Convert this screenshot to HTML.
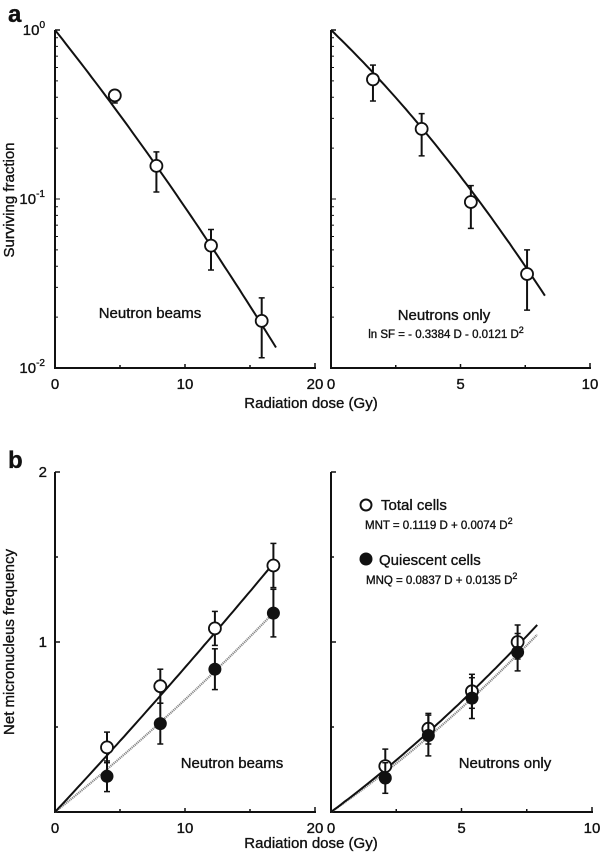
<!DOCTYPE html>
<html><head><meta charset="utf-8"><style>
body{margin:0;background:#fff}
svg text{font-family:"Liberation Sans",Arial,sans-serif;fill:#111;stroke:#111;stroke-width:0.35}
</style></head><body>
<svg id="c" width="600" height="855" xmlns="http://www.w3.org/2000/svg">
<text x="8" y="22" font-size="24" font-weight="bold">a</text>
<text x="8" y="468" font-size="24" font-weight="bold">b</text>
<text transform="translate(14,200) rotate(-90)" text-anchor="middle" font-size="15">Surviving fraction</text>
<text transform="translate(14,642) rotate(-90)" text-anchor="middle" font-size="15">Net micronucleus frequency</text>
<text x="311" y="408" text-anchor="middle" font-size="15">Radiation dose (Gy)</text>
<text x="311" y="848" text-anchor="middle" font-size="15">Radiation dose (Gy)</text>
<text x="150" y="318" text-anchor="middle" font-size="15">Neutron beams</text>
<text x="444" y="320" text-anchor="middle" font-size="15">Neutrons only</text>
<text x="446" y="338" text-anchor="middle" font-size="11.5">ln SF = - 0.3384 D - 0.0121 D<tspan dy="-5" font-size="9">2</tspan></text>
<text x="232" y="768" text-anchor="middle" font-size="15">Neutron beams</text>
<text x="505" y="768" text-anchor="middle" font-size="15">Neutrons only</text>
<circle cx="366" cy="505" r="5.5" fill="#fff" stroke="#111" stroke-width="2"/>
<text x="381" y="510" font-size="15">Total cells</text>
<text x="365" y="529" font-size="11.5">MNT = 0.1119 D + 0.0074 D<tspan dy="-5" font-size="9">2</tspan></text>
<circle cx="366" cy="559" r="6.5" fill="#111"/>
<text x="379" y="565" font-size="15">Quiescent cells</text>
<text x="366" y="584" font-size="11.5">MNQ = 0.0837 D + 0.0135 D<tspan dy="-5" font-size="9">2</tspan></text>
</svg>
<script>
// Panel a left (neutron beams)
const aLeftDose=[4.6,7.8,12.0,15.9];
const aLeftSF=[0.41,0.157,0.053,0.019];
const aLeftErrLo=[0.37,0.11,0.038,0.0115];
const aLeftErrHi=[0.41,0.19,0.066,0.026];
const aLeftFit=[0.223,0.00185];
// Panel a right (neutrons only)
const aRightDose=[1.62,3.5,5.4,7.57];
const aRightSF=[0.51,0.26,0.096,0.036];
const aRightErrLo=[0.38,0.18,0.067,0.022];
const aRightErrHi=[0.62,0.32,0.12,0.05];
const aRightFit=[0.3384,0.0121];
// Panel b left
const bLeftDose=[4.0,8.1,12.3,16.8];
const bLeftTotal=[0.38,0.74,1.08,1.45];
const bLeftTotalErr=[0.09,0.1,0.1,0.13];
const bLeftQuies=[0.21,0.52,0.84,1.17];
const bLeftQuiesErr=[0.09,0.12,0.12,0.14];
const bLeftFitT=[0.082,0.0003];
const bLeftFitQ=[0.0608,0.00053];
// Panel b right
const bRightDose=[2.08,3.73,5.4,7.15];
const bRightTotal=[0.27,0.49,0.71,1.0];
const bRightTotalErr=[0.1,0.09,0.1,0.1];
const bRightQuies=[0.2,0.45,0.67,0.94];
const bRightQuiesErr=[0.09,0.12,0.12,0.11];
const bRightFitT=[0.114,0.0032];
const bRightFitQ=[0.106,0.0033];

const svg=document.getElementById('c');
const NS='http://www.w3.org/2000/svg';
function mk(tag,attrs,name){const e=document.createElementNS(NS,tag);for(const k in attrs)e.setAttribute(k,attrs[k]);


svg.appendChild(e);return e;}
function line(x1,y1,x2,y2,name,w){return mk('line',{x1,y1,x2,y2,stroke:'#111','stroke-width':w||2},name);}
function txt(x,y,s,name,anchor,size){const t=mk('text',{x,y,'text-anchor':anchor||'middle','font-size':size||15},name);t.textContent=s;return t;}

function panel(cfg){
  const {x0,x1,yTop,yBot,xmax,log,ymax}=cfg;
  const X=d=>x0+(x1-x0)*d/xmax;
  const Y=log?(v=>yBot-(yBot-yTop)*(Math.log10(v)+2)/2):(v=>yBot-(yBot-yTop)*v/ymax);
  line(x0,yTop,x0,yBot+1,cfg.p+'-y-axis');
  line(x0-1,yBot,x1+1,yBot,cfg.p+'-x-axis');
  line(x1,yBot,x1,yBot-5,cfg.p+'-x-end-tick',1.5);
  for(let i=1;i<4;i++) line(X(xmax*i/4),yBot,X(xmax*i/4),yBot-(i==2?4:3),cfg.p+'-x-tick',1.5);
  const xl=[0,xmax/2,xmax];
  xl.forEach(v=>txt(X(v),yBot+21,String(v),cfg.p+'-x-tick-label'));
  if(log){
    for(let dec=-2;dec<0;dec++) for(let m=1;m<10;m++){const v=m*Math.pow(10,dec);const y=Y(v);
      line(x0,y,x0+(m==1?5:3),y,cfg.p+'-y-minor-tick',1);}
    line(x0,yTop,x0+5,yTop,cfg.p+'-y-tick',1.5);
    if(cfg.labels){[[0,yTop],[-1,Y(0.1)],[-2,yBot]].forEach(([e,y])=>{
      const t=txt(x0-10,y+5,'10',cfg.p+'-y-tick-label','end',15);
      const s=document.createElementNS(NS,'tspan');s.setAttribute('dy','-7');s.setAttribute('font-size','10');s.textContent=String(e);t.appendChild(s);});}
  } else {
    for(let i=0;i<=4;i++){const y=Y(i*0.5);line(x0,y,x0+(i%2==0?5:3),y,cfg.p+'-y-tick',1.5);}
    if(cfg.labels){txt(x0-8,Y(1)+5,'1',cfg.p+'-y-tick-label','end');txt(x0-8,Y(2)+5,'2',cfg.p+'-y-tick-label','end');}
  }
  return {X,Y};
}
function curve(ax,fn,dmax,name,dotted){let d='';for(let i=0;i<=60;i++){const D=dmax*i/60;d+=(i?'L':'M')+ax.X(D).toFixed(1)+','+ax.Y(fn(D)).toFixed(1);}
  return mk('path',{d,fill:'none',stroke:dotted?'#888':'#111','stroke-width':dotted?2.2:2,'stroke-dasharray':dotted?'1.2,0.8':'none'},name);}
function point(ax,D,v,lo,hi,filled,name){
  const x=ax.X(D);line(x,ax.Y(lo),x,ax.Y(hi),name+'-errorbar',2);
  line(x-3,ax.Y(lo),x+3,ax.Y(lo),name+'-errcap',1.5);line(x-3,ax.Y(hi),x+3,ax.Y(hi),name+'-errcap',1.5);
  mk('circle',{cx:x,cy:ax.Y(v),r:filled?6.5:6,fill:filled?'#111':'#fff',stroke:'#111','stroke-width':filled?0:1.8},name);
}
let ax=panel({p:'a-left',x0:55,x1:315,yTop:30,yBot:368,xmax:20,log:true,labels:true});
curve(ax,D=>Math.exp(-aLeftFit[0]*D-aLeftFit[1]*D*D),17,'fit-curve-a-left');
aLeftDose.forEach((D,i)=>point(ax,D,aLeftSF[i],aLeftErrLo[i],aLeftErrHi[i],false,'point-a-left'));
ax=panel({p:'a-right',x0:331,x1:590,yTop:30,yBot:368,xmax:10,log:true,labels:false});
curve(ax,D=>Math.exp(-aRightFit[0]*D-aRightFit[1]*D*D),8.26,'fit-curve-a-right');
aRightDose.forEach((D,i)=>point(ax,D,aRightSF[i],aRightErrLo[i],aRightErrHi[i],false,'point-a-right'));
ax=panel({p:'b-left',x0:55,x1:315,yTop:472,yBot:812,xmax:20,log:false,ymax:2,labels:true});
curve(ax,D=>bLeftFitQ[0]*D+bLeftFitQ[1]*D*D,16.8,'fit-curve-quiescent-b-left',true);
curve(ax,D=>bLeftFitT[0]*D+bLeftFitT[1]*D*D,16.8,'fit-curve-total-b-left');
bLeftDose.forEach((D,i)=>point(ax,D,bLeftTotal[i],bLeftTotal[i]-bLeftTotalErr[i],bLeftTotal[i]+bLeftTotalErr[i],false,'point-total-b-left'));
bLeftDose.forEach((D,i)=>point(ax,D,bLeftQuies[i],bLeftQuies[i]-bLeftQuiesErr[i],bLeftQuies[i]+bLeftQuiesErr[i],true,'point-quiescent-b-left'));
ax=panel({p:'b-right',x0:331,x1:592,yTop:472,yBot:812,xmax:10,log:false,ymax:2,labels:false});
curve(ax,D=>bRightFitQ[0]*D+bRightFitQ[1]*D*D,7.9,'fit-curve-quiescent-b-right',true);
curve(ax,D=>bRightFitT[0]*D+bRightFitT[1]*D*D,7.9,'fit-curve-total-b-right');
bRightDose.forEach((D,i)=>point(ax,D,bRightTotal[i],bRightTotal[i]-bRightTotalErr[i],bRightTotal[i]+bRightTotalErr[i],false,'point-total-b-right'));
bRightDose.forEach((D,i)=>point(ax,D,bRightQuies[i],bRightQuies[i]-bRightQuiesErr[i],bRightQuies[i]+bRightQuiesErr[i],true,'point-quiescent-b-right'));
</script>
</body></html>
